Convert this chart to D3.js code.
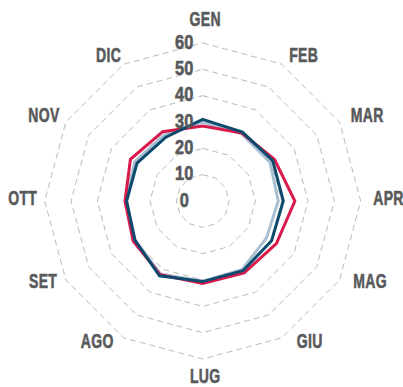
<!DOCTYPE html>
<html>
<head>
<meta charset="utf-8">
<script src="https://cdn.jsdelivr.net/npm/d3@7"></script>
<style>
  html, body { margin: 0; padding: 0; background: #fff; }
  svg { display: block; }
  text { font-family: "Liberation Sans", Arial, sans-serif; font-weight: bold; fill: #58595b; stroke: #58595b; stroke-width: 0.6px; }
</style>
</head>
<body>
<svg id="chart" width="403" height="387"></svg>
<script>
// ---- data ----
const months = ["GEN","FEB","MAR","APR","MAG","GIU","LUG","AGO","SET","OTT","NOV","DIC"];
const tickValues = [0, 10, 20, 30, 40, 50, 60];
const seriesLight = [30, 29.5, 29.5, 28.7, 28, 30, 30.5, 32, 29.8, 29, 29.8, 29];
const seriesRed   = [28.5, 29.8, 31.5, 35, 32.3, 31.5, 31.3, 32.3, 30.5, 29.5, 31.7, 30.4];
const seriesDark  = [31, 30.2, 30.7, 30.6, 30.2, 30.6, 30.6, 32.8, 29.7, 28.9, 28.8, 28];

// ---- layout ----
const cx = 202.7, cy = 201, R = 158;
const svg = d3.select("#chart");
const g = svg.append("g").attr("transform", `translate(${cx},${cy})`);

const angle = d3.scalePoint().domain(months).range([0, 2 * Math.PI * 11 / 12]);
const r = d3.scaleLinear().domain([0, 60]).range([0, R]);

const pt = (m, v) => [r(v) * Math.sin(angle(m)), -r(v) * Math.cos(angle(m))];

// grid rings (polygons)
const ringLine = d3.line().curve(d3.curveLinearClosed);
tickValues.filter(t => t > 0).forEach(t => {
  g.append("path")
    .attr("d", ringLine(months.map(m => pt(m, t))))
    .attr("fill", "none")
    .attr("stroke", "#bababa")
    .attr("stroke-width", 1)
    .attr("stroke-dasharray", "6,4");
});

// series
const radial = d3.lineRadial()
  .angle((d, i) => angle(months[i]))
  .radius(d => r(d))
  .curve(d3.curveLinearClosed);

g.append("path").attr("d", radial(seriesLight))
  .attr("fill", "none").attr("stroke", "#a9c0d3").attr("stroke-width", 3);
g.append("path").attr("d", radial(seriesRed))
  .attr("fill", "none").attr("stroke", "#d81a4c").attr("stroke-width", 3);
g.append("path").attr("d", radial(seriesDark))
  .attr("fill", "none").attr("stroke", "#0d4a6d").attr("stroke-width", 3);

// tick labels
g.selectAll("g.tick").data(tickValues).enter().append("g")
  .attr("class", "tick")
  .attr("transform", d => `translate(-18.5,${-r(d) - 1.5})`)
  .append("text")
  .attr("transform", "scale(0.82,1)")
  .attr("dy", "0.36em")
  .attr("text-anchor", "middle")
  .style("font-size", "20px")
  .text(d => d);

// month labels
const lx = 2.5, L = 168, K = 165.5;
months.forEach(m => {
  const a = angle(m);
  const s = Math.sin(a), c = Math.cos(a);
  let anchor = "middle", x = lx, y;
  if (s > 0.01) { anchor = "start"; x = lx + L * s + (c < 0 ? 10 * c * c : 0); }
  else if (s < -0.01) { anchor = "end"; x = lx + L * s - (c < 0 ? 10 * c * c : 0); }
  y = -K * c - 3.3;
  if (Math.abs(s) < 0.01) y += -13 * c;
  g.append("g").attr("transform", `translate(${x},${y})`)
    .append("text")
    .attr("transform", "scale(0.7,1)")
    .attr("dy", "0.36em")
    .attr("text-anchor", anchor)
    .attr("letter-spacing", "0.5")
    .style("font-size", "20px")
    .text(m);
});
</script>
</body>
</html>
